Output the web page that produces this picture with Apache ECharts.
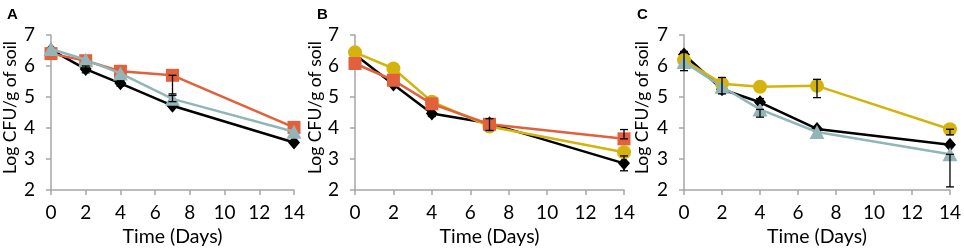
<!DOCTYPE html>
<html><head><meta charset="utf-8">
<script src="https://cdn.jsdelivr.net/npm/echarts@6/dist/echarts.min.js"></script>
<style>html,body{margin:0;padding:0;background:#fff}#c{width:964px;height:252px}</style>
</head><body><div id="c"></div>
<script>
const days = [0, 2, 4, 7, 14];
const xTicks = [0, 2, 4, 6, 8, 10, 12, 14];
const yTicks = [2, 3, 4, 5, 6, 7];
const panelLabels = ['A', 'B', 'C'];
const aBlack = [6.52, 5.90, 5.44, 4.72, 3.53];
const aOrange = [6.40, 6.17, 5.83, 5.70, 4.02];
const aTeal = [6.55, 6.20, 5.76, 4.94, 3.88];
const bBlack = [6.37, 5.40, 4.47, 4.15, 2.86];
const bYellow = [6.44, 5.92, 4.85, 4.05, 3.22];
const bOrange = [6.08, 5.54, 4.78, 4.12, 3.65];
const cBlack = [6.37, 5.25, 4.83, 3.97, 3.46];
const cYellow = [6.19, 5.43, 5.33, 5.36, 3.96];
const cTeal = [6.13, 5.33, 4.60, 3.87, 3.15];
// error bars: [day, low, high]
const errA = [[2, 5.78, 6.0], [4, 5.35, 5.52], [7, 5.1, 5.7], [7, 4.85, 5.05]];
const errB = [[4, 4.37, 4.5], [7, 3.92, 4.3], [14, 2.62, 3.1], [14, 3.65, 3.95]];
const errC = [[0, 5.85, 6.47], [2, 5.1, 5.63], [4, 4.35, 4.6], [4, 4.8, 4.95], [7, 4.98, 5.57], [14, 3.78, 3.96], [14, 2.1, 3.15]];

const C = {black: '#000000', orange: '#e2603c', teal: '#92b6b8', yellow: '#d4b40c'};
const FONT = 'Lato';
const grids = [
  {left: 50, top: 35, width: 244, height: 158},
  {left: 355, top: 35, width: 269, height: 158},
  {left: 684, top: 35, width: 269, height: 158}
];
const axisLineStyle = {color: '#a6a6a6', width: 1.5};
const xAxes = grids.map((g, i) => ({
  type: 'value', gridIndex: i, min: xTicks[0], max: xTicks[xTicks.length - 1], interval: xTicks[1] - xTicks[0],
  splitLine: {show: false},
  axisLine: {show: true, onZero: false, lineStyle: axisLineStyle},
  axisTick: {show: true, inside: false, length: 5, lineStyle: axisLineStyle},
  axisLabel: {fontFamily: FONT, fontSize: 19, color: '#000', margin: 13},
  name: 'Time (Days)', nameLocation: 'middle', nameGap: 37,
  nameTextStyle: {fontFamily: FONT, fontSize: 19.5, color: '#000'}
}));
const yAxes = grids.map((g, i) => ({
  type: 'value', gridIndex: i, min: yTicks[0], max: yTicks[yTicks.length - 1], interval: 1,
  splitLine: {show: false},
  axisLine: {show: true, onZero: false, lineStyle: axisLineStyle},
  axisTick: {show: true, inside: false, length: 5, lineStyle: axisLineStyle},
  axisLabel: {fontFamily: FONT, fontSize: 19, color: '#000', margin: 16},
  name: 'Log CFU/g of soil', nameLocation: 'middle', nameGap: [32, 29, 33][i],
  nameTextStyle: {fontFamily: FONT, fontSize: 17.5, color: '#000', padding: [0, 0, 0, 10]}
}));

function pts(vals) { return days.map((d, k) => [d, vals[k]]); }
const symbols = {
  black: {symbol: 'diamond', symbolSize: [12, 14]},
  orange: {symbol: 'rect', symbolSize: 13},
  teal: {symbol: 'triangle', symbolSize: [15, 14]},
  yellow: {symbol: 'circle', symbolSize: 14}
};
function line(i, key, vals, z) {
  return Object.assign({
    type: 'line', xAxisIndex: i, yAxisIndex: i, data: pts(vals), z: z,
    lineStyle: {color: C[key], width: 2.5}, itemStyle: {color: C[key]},
    showAllSymbol: true, animation: false, silent: true
  }, symbols[key]);
}
function errSeries(i, data) {
  return {
    type: 'custom', xAxisIndex: i, yAxisIndex: i, data: data, z: 10, animation: false, silent: true,
    renderItem: function (params, api) {
      const lo = api.coord([api.value(0), api.value(1)]);
      const hi = api.coord([api.value(0), api.value(2)]);
      const w = 4;
      const st = {stroke: '#000', lineWidth: 1.3};
      return {type: 'group', children: [
        {type: 'line', shape: {x1: lo[0], y1: lo[1], x2: hi[0], y2: hi[1]}, style: st},
        {type: 'line', shape: {x1: lo[0] - w, y1: lo[1], x2: lo[0] + w, y2: lo[1]}, style: st},
        {type: 'line', shape: {x1: hi[0] - w, y1: hi[1], x2: hi[0] + w, y2: hi[1]}, style: st}
      ]};
    }
  };
}
const chart = echarts.init(document.getElementById('c'), null, {renderer: 'canvas'});
chart.setOption({
  animation: false,
  title: panelLabels.map((t, i) => ({
    text: t, left: [2, 312, 632][i], top: 2,
    textStyle: {fontFamily: 'Liberation Sans', fontSize: 15, fontWeight: 'bold', color: '#000'}
  })),
  grid: grids,
  xAxis: xAxes,
  yAxis: yAxes,
  series: [
    line(0, 'black', aBlack, 2), line(0, 'orange', aOrange, 3), line(0, 'teal', aTeal, 4), errSeries(0, errA),
    line(1, 'black', bBlack, 2), line(1, 'yellow', bYellow, 3), line(1, 'orange', bOrange, 4), errSeries(1, errB),
    line(2, 'black', cBlack, 2), line(2, 'yellow', cYellow, 3), line(2, 'teal', cTeal, 4), errSeries(2, errC)
  ]
});
</script></body></html>
